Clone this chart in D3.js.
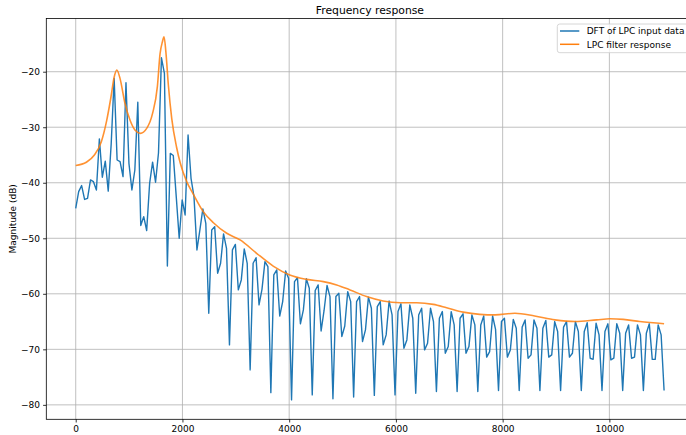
<!DOCTYPE html>
<html>
<head>
<meta charset="utf-8">
<script src="https://cdn.jsdelivr.net/npm/d3@7"></script>
<style>
  html, body { margin: 0; padding: 0; background: #ffffff; }
  svg { display: block; font-family: "DejaVu Sans", sans-serif; }
</style>
</head>
<body>
<svg id="chart" width="686" height="435"></svg>
<script>
// Spectrum of the LPC input frame: 200 bins spanning 0 .. Nyquist
const nyquist = 11025;
const dftDb = [
  -44.6, -41.6, -40.5, -43.0, -42.8, -39.5, -39.8, -41.3, -32.1, -39.0,
  -36.1, -41.5, -33.0, -21.2, -35.9, -36.2, -38.9, -22.0, -36.5, -41.3,
  -37.7, -25.5, -47.7, -46.1, -48.6, -40.1, -36.3, -39.9, -34.6, -17.5,
  -20.3, -55.0, -34.7, -35.1, -42.5, -50.0, -43.1, -45.8, -31.4, -39.2,
  -42.5, -52.1, -48.5, -44.7, -47.3, -63.5, -48.5, -47.9, -56.3, -54.5,
  -49.2, -51.8, -69.2, -52.1, -51.1, -59.3, -57.5, -51.9, -54.5, -73.7,
  -54.5, -53.5, -62.0, -59.2, -54.2, -55.1, -77.8, -56.6, -55.7, -64.0,
  -61.4, -55.9, -57.2, -79.1, -57.8, -57.1, -65.4, -62.9, -57.3, -59.0,
  -78.2, -59.4, -58.4, -66.7, -63.0, -58.5, -60.5, -78.9, -60.5, -59.9,
  -67.7, -65.8, -59.6, -61.4, -78.6, -61.4, -60.5, -68.6, -66.5, -60.6,
  -62.6, -78.3, -62.3, -61.4, -69.2, -67.4, -61.3, -63.8, -78.2, -63.2,
  -61.8, -69.8, -68.3, -62.0, -64.4, -77.9, -63.8, -62.6, -70.1, -68.9,
  -62.6, -65.0, -77.6, -64.4, -63.2, -70.7, -69.5, -63.2, -65.6, -77.6,
  -64.4, -63.6, -70.7, -69.5, -63.8, -65.6, -77.6, -65.6, -64.0, -71.4,
  -70.4, -64.0, -66.4, -77.4, -65.0, -64.4, -71.4, -70.1, -64.6, -66.2,
  -77.4, -66.0, -64.7, -71.6, -71.0, -64.7, -66.2, -77.4, -66.2, -64.8,
  -71.4, -71.0, -65.0, -66.8, -77.4, -66.0, -65.0, -71.4, -70.7, -65.0,
  -66.8, -77.4, -66.8, -65.2, -71.6, -71.8, -65.3, -67.4, -77.4, -66.8,
  -65.4, -71.9, -71.6, -65.4, -67.1, -77.4, -67.1, -65.6, -71.6, -71.4,
  -65.6, -67.4, -77.4, -67.1, -65.4, -71.8, -71.8, -65.6, -67.4, -77.4
];

// LPC synthesis filter magnitude response (Hz, dB)
const lpcFreq = [
  0, 200, 350, 480, 580, 660, 720, 770, 830, 920,
  1020, 1110, 1210, 1330, 1440, 1530, 1580, 1625, 1655, 1690,
  1735, 1800, 1890, 1960, 2080, 2200, 2390, 2580, 2830, 3080,
  3390, 3700, 4010, 4330, 4640, 4890, 5140, 5450, 5760, 6080,
  6390, 6700, 6950, 7260, 7570, 7860, 8230, 8600, 8980, 9360,
  9760, 10010, 10260, 10570, 11025
];
const lpcDb = [
  -36.9, -36.3, -35.0, -32.6, -28.8, -24.6, -21.0, -19.7, -21.2, -25.6,
  -28.8, -30.5, -31.1, -30.2, -27.5, -22.7, -16.8, -14.6, -13.7, -16.5,
  -22.3, -28.5, -33.6, -36.5, -39.8, -42.0, -45.2, -47.2, -49.1, -50.3,
  -52.7, -55.0, -56.6, -57.4, -57.8, -58.4, -59.3, -60.5, -61.3, -61.6,
  -61.6, -61.9, -62.5, -63.3, -63.7, -63.8, -63.5, -64.0, -64.7, -65.0,
  -64.7, -64.5, -64.6, -65.0, -65.4
];

const xTicks = [0, 2000, 4000, 6000, 8000, 10000];
const yTicks = [-80, -70, -60, -50, -40, -30, -20];

const seriesNames = ["DFT of LPC input data", "LPC filter response"];
const seriesColors = ["#1f77b4", "#ff7f0e"];

const svg = d3.select("#chart");
const plot = { left: 46.3, right: 693.5, top: 18.4, bottom: 419.3 };

const x = d3.scaleLinear().domain([-551.25, 11576.25]).range([plot.left, plot.right]);
const y = d3.scaleLinear().domain([-82.6, -10.4]).range([plot.bottom, plot.top]);

const minus = s => String(s).replace("-", "\u2212");

// grid
const grid = svg.append("g").attr("class", "grid");
grid.selectAll("line.gx").data(xTicks).join("line")
  .attr("x1", d => x(d)).attr("x2", d => x(d))
  .attr("y1", plot.top).attr("y2", plot.bottom)
  .attr("stroke", "#b0b0b0").attr("stroke-width", 0.8);
grid.selectAll("line.gy").data(yTicks).join("line")
  .attr("x1", plot.left).attr("x2", plot.right)
  .attr("y1", d => y(d)).attr("y2", d => y(d))
  .attr("stroke", "#b0b0b0").attr("stroke-width", 0.8);

// series
const dftPoints = dftDb.map((v, i) => [i * nyquist / (dftDb.length - 1), v]);
const lpcPoints = lpcFreq.map((f, i) => [f, lpcDb[i]]);

const clip = svg.append("clipPath").attr("id", "plotclip")
  .append("rect").attr("x", plot.left).attr("y", plot.top)
  .attr("width", plot.right - plot.left).attr("height", plot.bottom - plot.top);

const lines = svg.append("g").attr("clip-path", "url(#plotclip)");
lines.append("path")
  .datum(dftPoints)
  .attr("fill", "none")
  .attr("stroke", seriesColors[0])
  .attr("stroke-width", 1.4)
  .attr("stroke-linejoin", "round")
  .attr("d", d3.line().x(d => x(d[0])).y(d => y(d[1])));
lines.append("path")
  .datum(lpcPoints)
  .attr("fill", "none")
  .attr("stroke", seriesColors[1])
  .attr("stroke-opacity", 0.85)
  .attr("stroke-width", 1.6)
  .attr("stroke-linejoin", "round")
  .attr("d", d3.line().curve(d3.curveMonotoneX).x(d => x(d[0])).y(d => y(d[1])));

// axes
const xAxis = d3.axisBottom(x).tickValues(xTicks).tickSize(3.2).tickPadding(3.2)
  .tickFormat(d => minus(d));
const yAxis = d3.axisLeft(y).tickValues(yTicks).tickSize(3.2).tickPadding(3.2)
  .tickFormat(d => minus(d));

const gx = svg.append("g").attr("transform", `translate(0,${plot.bottom})`).call(xAxis);
const gy = svg.append("g").attr("transform", `translate(${plot.left},0)`).call(yAxis);
[gx, gy].forEach(g => {
  g.select(".domain").remove();
  g.selectAll(".tick line").attr("stroke", "#000").attr("stroke-width", 0.8);
  g.selectAll(".tick text").attr("fill", "#000").attr("font-size", 9)
    .attr("font-family", "DejaVu Sans, sans-serif");
});

// frame
svg.append("rect")
  .attr("x", plot.left).attr("y", plot.top)
  .attr("width", plot.right - plot.left).attr("height", plot.bottom - plot.top)
  .attr("fill", "none").attr("stroke", "#000").attr("stroke-width", 0.8);

// title and axis label
svg.append("text")
  .attr("x", (plot.left + plot.right) / 2).attr("y", 13.5)
  .attr("text-anchor", "middle").attr("font-size", 10.8).attr("fill", "#000")
  .text("Frequency response");
svg.append("text")
  .attr("transform", `translate(16,${(plot.top + plot.bottom) / 2}) rotate(-90)`)
  .attr("text-anchor", "middle").attr("font-size", 9).attr("fill", "#000")
  .text("Magnitude (dB)");

// legend
const legend = svg.append("g").attr("transform", "translate(557.3,24)");
legend.append("rect")
  .attr("width", 132).attr("height", 28.7).attr("rx", 2.5)
  .attr("fill", "#ffffff").attr("fill-opacity", 0.8)
  .attr("stroke", "#cccccc").attr("stroke-width", 0.8);
seriesNames.forEach((name, i) => {
  const cy = 7 + i * 13.3;
  legend.append("line")
    .attr("x1", 2.7).attr("x2", 22).attr("y1", cy).attr("y2", cy)
    .attr("stroke", seriesColors[i]).attr("stroke-width", 1.5);
  legend.append("text")
    .attr("x", 29.4).attr("y", cy + 3.3)
    .attr("font-size", 9).attr("fill", "#000")
    .text(name);
});
</script>
</body>
</html>
